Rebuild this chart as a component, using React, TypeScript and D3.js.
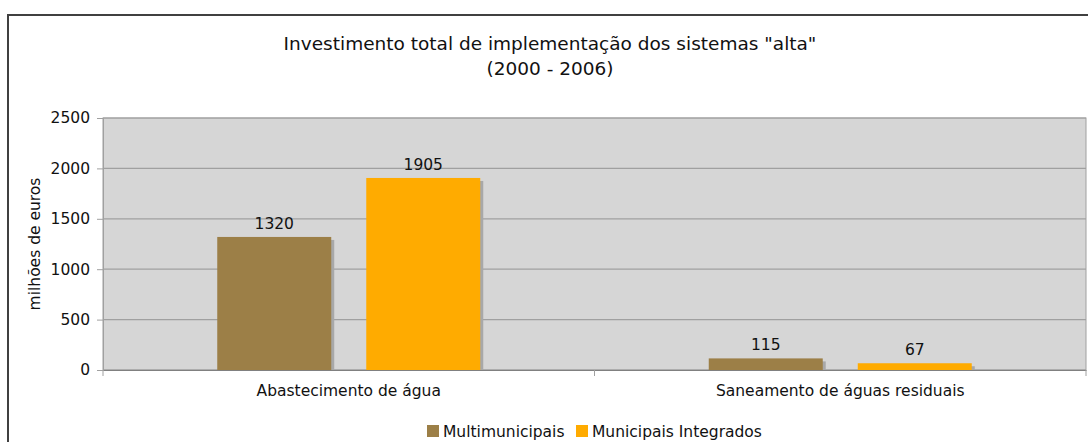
import React, { useEffect, useRef } from 'react';
import * as d3 from 'd3';

const categories = ['Abastecimento de água', 'Saneamento de águas residuais'];
const seriesNames = ['Multimunicipais', 'Municipais Integrados'];
const multimunicipais = [1320, 115];
const municipaisIntegrados = [1905, 67];
const yTicks = [0, 500, 1000, 1500, 2000, 2500];
const colors = ['#9c7f47', '#ffab00'];

const W = 1088;
const H = 442;

const App: React.FC = () => {
  const svgRef = useRef<SVGSVGElement | null>(null);

  useEffect(() => {
    const svg = d3.select(svgRef.current);
    svg.selectAll('*').remove();

    const font = 'Verdana, "DejaVu Sans", sans-serif';
    const fs = '15.5px';
    const margin = { top: 118, right: 2, bottom: 72, left: 103 };
    const innerWidth = W - margin.left - margin.right;
    const innerHeight = H - margin.top - margin.bottom;

    // outer frame
    svg.append('rect')
      .attr('x', 8).attr('y', 15)
      .attr('width', 1200).attr('height', 600)
      .attr('fill', '#fff')
      .attr('stroke', '#404040')
      .attr('stroke-width', 2);

    // title
    const title = svg.append('text')
      .attr('x', 550).attr('y', 50)
      .attr('text-anchor', 'middle')
      .style('font-family', font)
      .style('font-size', '18.5px')
      .attr('fill', '#111');
    title.append('tspan').attr('x', 550).text('Investimento total de implementação dos sistemas "alta"');
    title.append('tspan').attr('x', 550).attr('dy', 25).text('(2000 - 2006)');

    const g = svg.append('g').attr('transform', `translate(${margin.left},${margin.top})`);

    const x = d3.scaleBand().domain(categories).range([0, innerWidth]).paddingInner(0).paddingOuter(0);
    const x1 = d3.scaleBand().domain(seriesNames).range([0, 263]).paddingInner(0.235);
    const y = d3.scaleLinear().domain([0, 2500]).range([innerHeight, 0]);

    // plot background
    g.append('rect')
      .attr('width', innerWidth).attr('height', innerHeight)
      .attr('fill', '#d6d6d6')
      .attr('stroke', '#a0a0a0');

    // gridlines
    g.selectAll('.grid')
      .data(yTicks)
      .join('line')
      .attr('x1', 0).attr('x2', innerWidth)
      .attr('y1', d => y(d)).attr('y2', d => y(d))
      .attr('stroke', '#a0a0a0')
      .attr('stroke-width', 1.2);

    // y axis
    const yAxis = g.append('g')
      .call(d3.axisLeft(y).tickValues(yTicks).tickSize(6).tickPadding(7).tickFormat(d3.format('d')));
    yAxis.select('.domain').attr('stroke', '#a0a0a0');
    yAxis.selectAll('line').attr('stroke', '#a0a0a0');
    yAxis.selectAll('text')
      .style('font-family', font)
      .style('font-size', fs)
      .attr('fill', '#111');

    // x axis
    const xAxis = g.append('g')
      .attr('transform', `translate(0,${innerHeight})`)
      .call(d3.axisBottom(x).tickSize(0).tickPadding(15));
    xAxis.select('.domain').attr('stroke', '#808080');
    xAxis.selectAll('text')
      .style('font-family', font)
      .style('font-size', fs)
      .attr('fill', '#111');
    g.selectAll('.sep')
      .data([0, 1, 2])
      .join('line')
      .attr('x1', d => d * x.bandwidth()).attr('x2', d => d * x.bandwidth())
      .attr('y1', innerHeight).attr('y2', innerHeight + 6)
      .attr('stroke', '#a0a0a0');

    const series = [multimunicipais, municipaisIntegrados];
    const rows = categories.flatMap((c, ci) =>
      seriesNames.map((s, si) => ({ c, s, si, v: series[si][ci] }))
    );
    const offset = (x.bandwidth() - 263) / 2;
    const bx = (d: { c: string; s: string }) => x(d.c)! + offset + x1(d.s)!;

    // shadows
    g.selectAll('.shadow')
      .data(rows)
      .join('rect')
      .attr('x', d => bx(d) + 3)
      .attr('y', d => y(d.v) + 3)
      .attr('width', x1.bandwidth())
      .attr('height', d => innerHeight - y(d.v) - 3)
      .attr('fill', '#a8a8a8');

    // bars
    g.selectAll('.bar')
      .data(rows)
      .join('rect')
      .attr('x', d => bx(d))
      .attr('y', d => y(d.v))
      .attr('width', x1.bandwidth())
      .attr('height', d => innerHeight - y(d.v))
      .attr('fill', d => colors[d.si]);

    // value labels
    g.selectAll('.val')
      .data(rows)
      .join('text')
      .attr('x', d => bx(d) + x1.bandwidth() / 2)
      .attr('y', d => y(d.v) - 8)
      .attr('text-anchor', 'middle')
      .style('font-family', font)
      .style('font-size', fs)
      .attr('fill', '#111')
      .text(d => d.v);

    // y label
    svg.append('text')
      .attr('transform', `translate(40,${margin.top + innerHeight / 2}) rotate(-90)`)
      .attr('text-anchor', 'middle')
      .style('font-family', font)
      .style('font-size', fs)
      .attr('fill', '#111')
      .text('milhões de euros');

    // legend
    const legendX = [427, 576];
    const legend = svg.append('g');
    seriesNames.forEach((s, i) => {
      legend.append('rect')
        .attr('x', legendX[i]).attr('y', 425)
        .attr('width', 12).attr('height', 12)
        .attr('fill', colors[i]);
      legend.append('text')
        .attr('x', legendX[i] + 16).attr('y', 437)
        .style('font-family', font)
        .style('font-size', fs)
        .attr('fill', '#111')
        .text(s);
    });
  }, []);

  return (
    <svg
      ref={svgRef}
      width={W}
      height={H}
      style={{ position: 'fixed', left: 0, top: 0, background: '#fff' }}
    />
  );
};

export default App;
